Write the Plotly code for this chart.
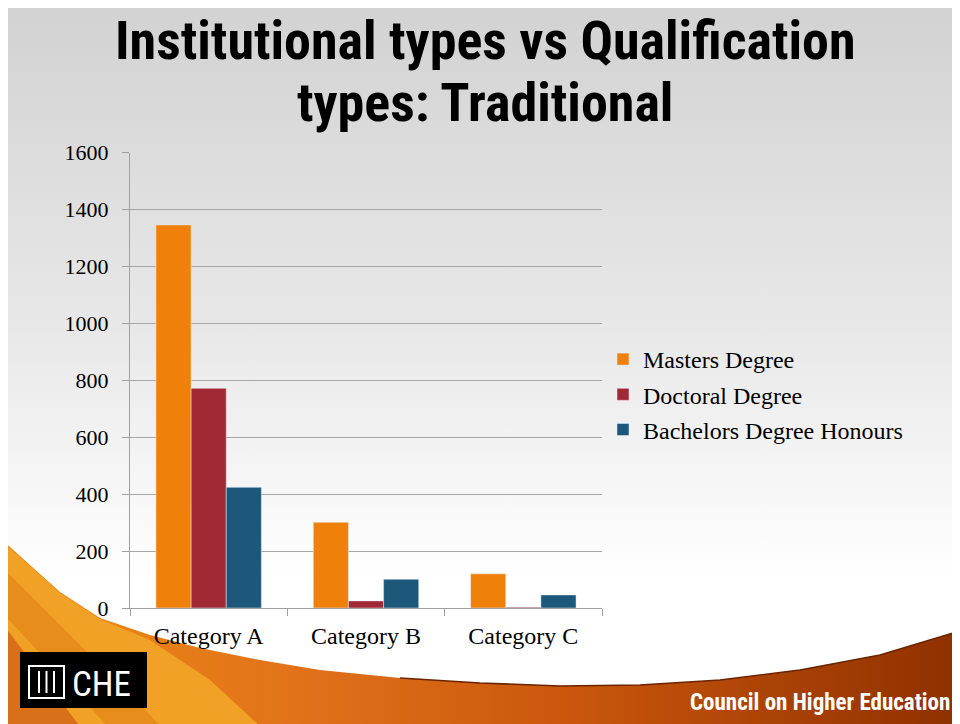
import plotly.graph_objects as go

categories = ["Category A", "Category B", "Category C"]
series_names = ["Masters Degree", "Doctoral Degree", "Bachelors Degree Honours"]
masters = [1346, 301, 120]
doctoral = [772, 25, 3]
bachelors = [424, 101, 46]
y_ticks = [0, 200, 400, 600, 800, 1000, 1200, 1400, 1600]

colors = ["#EF800A", "#A12835", "#1D587A"]
W, H = 960, 724
OFF = 8  # page body margin: page px = figure px + OFF
serif = "Liberation Serif, Times New Roman, serif"
narrow = "Liberation Sans Narrow, Roboto Condensed, Arial Narrow, Liberation Sans, Arial, sans-serif"


def fx(px):  # page px -> paper x
    return (px - OFF) / W


def fy(py):  # page px -> paper y
    return (H - (py - OFF)) / H


fig = go.Figure()

# --- slide decoration, drawn in a full-page pixel subplot (x/y) ---
fig.add_trace(go.Scatter(
    x=[0, 980, 980, 0, 0], y=[5, 5, 740, 740, 5], mode="lines", line=dict(width=0),
    fill="toself", fillgradient=dict(type="vertical", start=5, stop=724,
        colorscale=[[0, "#d2d2d2"], [0.45, "#e8e8e8"], [0.8, "#ffffff"], [1, "#ffffff"]]),
    hoverinfo="skip", showlegend=False))

edge_x = [0, 30, 60, 100, 150, 200, 260, 320, 400, 480, 560, 640, 720, 800, 880, 980]
edge_y = [538, 565, 592, 618, 635, 648, 660, 670, 678, 683, 686, 685, 680, 670, 655, 625]
fig.add_trace(go.Scatter(
    x=edge_x + [980, 0, 0], y=edge_y + [740, 740, 538], mode="lines", line=dict(width=0),
    fill="toself", fillgradient=dict(type="horizontal", start=0, stop=960,
        colorscale=[[0, "#ec8c14"], [0.3, "#e2731a"], [0.6, "#c9560c"], [1, "#8e3000"]]),
    hoverinfo="skip", showlegend=False))
# golden rays lower left
fig.add_trace(go.Scatter(
    x=[0, 30, 60, 100, 150, 210, 275, 0, 0], y=[540, 566, 593, 619, 640, 680, 740, 740, 540],
    mode="lines", line=dict(width=0), fill="toself", fillcolor="#f0a126",
    hoverinfo="skip", showlegend=False))
fig.add_trace(go.Scatter(
    x=[0, 175, 120, 0, 0], y=[565, 740, 740, 610, 565], mode="lines", line=dict(width=0),
    fill="toself", fillcolor="#e78d1c", hoverinfo="skip", showlegend=False))
fig.add_trace(go.Scatter(
    x=[0, 90, 0, 0], y=[620, 740, 740, 620], mode="lines", line=dict(width=0),
    fill="toself", fillcolor="#d8701a", hoverinfo="skip", showlegend=False))
fig.add_trace(go.Scatter(
    x=edge_x[8:], y=edge_y[8:], mode="lines", line=dict(color="#6b2400", width=1.5),
    hoverinfo="skip", showlegend=False))

# --- chart on x2/y2 ---
for name, vals, col in zip(series_names, [masters, doctoral, bachelors], colors):
    fig.add_trace(go.Bar(x=categories, y=vals, name=name, marker_color=col,
                         legendgroup=name, xaxis="x2", yaxis="y2"))

fig.update_layout(
    width=W, height=H, margin=dict(l=0, r=0, t=0, b=0, autoexpand=False),
    paper_bgcolor="white", plot_bgcolor="rgba(0,0,0,0)",
    barmode="group", bargap=0.33, bargroupgap=0,
    xaxis=dict(domain=[0, 1], range=[OFF, W + OFF], visible=False, fixedrange=True,
               automargin=False),
    yaxis=dict(domain=[0, 1], range=[H + OFF, OFF], visible=False, fixedrange=True,
               automargin=False),
    xaxis2=dict(domain=[fx(130), fx(602)], anchor="y2", showline=True, linecolor="#a0a0a0",
                linewidth=1, ticks="outside", tickson="boundaries", ticklen=7,
                tickcolor="#a0a0a0", showgrid=False, automargin=False, ticklabelstandoff=6,
                tickfont=dict(family=serif, size=24, color="black")),
    yaxis2=dict(domain=[fy(608), fy(152.7)], anchor="x2", range=[0, 1600],
                tickvals=y_ticks, showline=True, linecolor="#a0a0a0", linewidth=1,
                ticks="outside", ticklen=7, tickcolor="#a0a0a0", ticklabelstandoff=9,
                showgrid=True, gridcolor="#a6a6a6", gridwidth=1.3, zeroline=False,
                automargin=False,
                tickfont=dict(family=serif, size=22, color="black")),
    legend=dict(x=fx(603), y=fy(337), xanchor="left", yanchor="top",
                bgcolor="rgba(0,0,0,0)", tracegroupgap=1,
                font=dict(family=serif, size=24, color="black")),
    showlegend=True,
)

# title (two lines)
fig.add_annotation(text="<b>Institutional types vs Qualification</b>", x=485, y=40,
                   xref="x", yref="y", showarrow=False,
                   font=dict(family=narrow, size=54, color="black"))
fig.add_annotation(text="<b>types: Traditional</b>", x=485, y=102,
                   xref="x", yref="y", showarrow=False,
                   font=dict(family=narrow, size=54, color="black"))

# logo
fig.add_shape(type="rect", x0=20, y0=652, x1=147, y1=708, xref="x", yref="y",
              fillcolor="black", line=dict(width=0), layer="above")
fig.add_shape(type="rect", x0=29, y0=666, x1=64, y1=698, xref="x", yref="y",
              line=dict(color="white", width=2), layer="above")
for lx in [39, 46.5, 54]:
    fig.add_shape(type="line", x0=lx, y0=671, x1=lx, y1=693, xref="x", yref="y",
                  line=dict(color="white", width=2), layer="above")
fig.add_annotation(text="CHE", x=101, y=684, xref="x", yref="y", showarrow=False,
                   font=dict(family=narrow, size=35, color="white"))
fig.add_annotation(text="<b>Council on Higher Education</b>", x=952, y=702, xref="x", yref="y",
                   xanchor="right", showarrow=False,
                   font=dict(family=narrow, size=23, color="white"))

fig.write_html("out.html")
